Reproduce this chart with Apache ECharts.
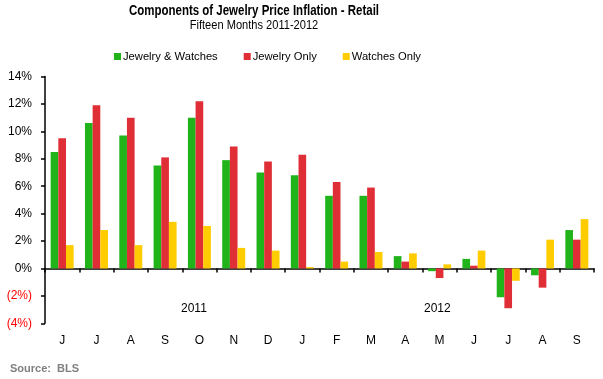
<!DOCTYPE html>
<html>
<head>
<meta charset="utf-8">
<script src="https://cdn.jsdelivr.net/npm/echarts@6/dist/echarts.min.js"></script>
<style>
html,body{margin:0;padding:0;background:#fff;}
#c{width:603px;height:379px;}
</style>
</head>
<body>
<div id="c"></div>
<script>
const months = ['J','J','A','S','O','N','D','J','F','M','A','M','J','J','A','S'];
const jewelryWatches = [8.5,10.6,9.7,7.5,11.0,7.9,7.0,6.8,5.3,5.3,0.9,-0.2,0.7,-2.1,-0.5,2.8];
const jewelryOnly    = [9.5,11.9,11.0,8.1,12.2,8.9,7.8,8.3,6.3,5.9,0.5,-0.7,0.2,-2.9,-1.4,2.1];
const watchesOnly    = [1.7,2.8,1.7,3.4,3.1,1.5,1.3,0.1,0.5,1.2,1.1,0.3,1.3,-0.9,2.1,3.6];
const yearLabels = ['2011','2012'];
const seriesNames = ['Jewelry & Watches','Jewelry Only','Watches Only'];
const colors = ['#21B41A','#E02E36','#FFCC00'];

const sans = '"Liberation Sans", Arial, sans-serif';

const chart = echarts.init(document.getElementById('c'));
chart.setOption({
  animation: false,
  backgroundColor: '#fff',
  color: colors,
  legend: {
    data: seriesNames, left: 114, top: 51, padding: 0,
    itemWidth: 7, itemHeight: 7, itemGap: 26, icon: 'rect',
    textStyle: {fontFamily: sans, fontSize: 11.2, color: '#000', padding: [0,0,0,-3]}
  },
  grid: {left: 45, right: 9, top: 76.5, bottom: 55.7, containLabel: false},
  xAxis: [
    {type: 'category', data: months, position: 'bottom',
     axisLine: {onZero: true, lineStyle: {color: '#000', width: 1.5}},
     axisTick: {show: true, length: 4, inside: false, lineStyle: {color: '#000', width: 1.5}},
     axisLabel: {show: false}, splitLine: {show: false}},
    {type: 'category', data: months, position: 'bottom',
     axisLine: {show: false, onZero: false}, axisTick: {show: false},
     axisLabel: {show: true, margin: 11, fontFamily: sans, fontSize: 12, color: '#000'},
     splitLine: {show: false}}
  ],
  yAxis: {
    type: 'value', min: -4, max: 14, interval: 2,
    axisLine: {show: true, lineStyle: {color: '#000', width: 1.5}},
    axisTick: {show: true, length: 4, lineStyle: {color: '#000', width: 1.5}},
    splitLine: {show: false},
    axisLabel: {
      margin: 13, fontFamily: sans, fontSize: 12, color: '#000',
      formatter: function(v){ return v < 0 ? '{neg|(' + (-v) + '%)}' : v + '%'; },
      rich: {neg: {color: '#FF0000', fontFamily: sans, fontSize: 12}}
    }
  },
  graphic: [
    {type: 'text', x: 254, y: 11, scaleX: 0.82,
     style: {text: 'Components of Jewelry Price Inflation - Retail', x: 0, y: 0, align: 'center', verticalAlign: 'middle',
             font: 'bold 14px "Liberation Sans", Arial', fill: '#000'}},
    {type: 'text', x: 254, y: 25.5, scaleX: 0.88,
     style: {text: 'Fifteen Months 2011-2012', x: 0, y: 0, align: 'center', verticalAlign: 'middle',
             font: '12.6px "Liberation Sans", Arial', fill: '#000'}},
    {type: 'text', left: 181, top: 303, style: {text: yearLabels[0], font: '12px "Liberation Sans", Arial', fill: '#000'}},
    {type: 'text', left: 424, top: 303, style: {text: yearLabels[1], font: '12px "Liberation Sans", Arial', fill: '#000'}},
    {type: 'text', left: 10, top: 363, style: {text: 'Source:  BLS', font: 'bold 11px "Liberation Sans", Arial', fill: '#808080'}}
  ],
  series: [
    {name: seriesNames[0], type: 'bar', data: jewelryWatches, barGap: '0%', barCategoryGap: '33%'},
    {name: seriesNames[1], type: 'bar', data: jewelryOnly, barGap: '0%', barCategoryGap: '33%'},
    {name: seriesNames[2], type: 'bar', data: watchesOnly, barGap: '0%', barCategoryGap: '33%'}
  ]
});
</script>
</body>
</html>
